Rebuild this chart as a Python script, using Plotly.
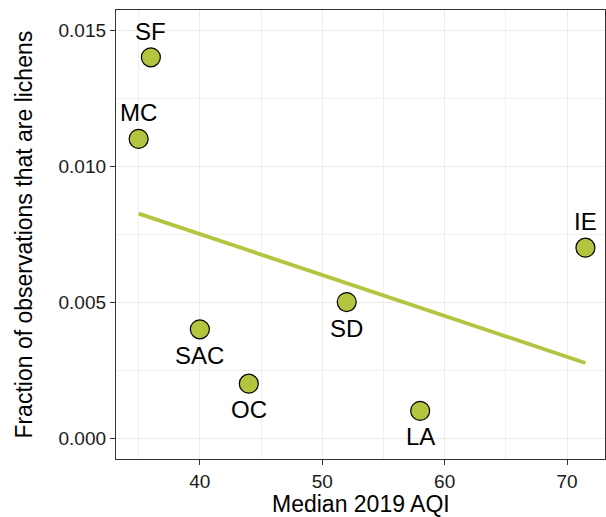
import numpy as np
import plotly.graph_objects as go

regions = ["SF", "MC", "IE", "SD", "SAC", "OC", "LA"]
aqi = [36, 35, 71.5, 52, 40, 44, 58]
lichen_frac = [0.014, 0.011, 0.007, 0.005, 0.004, 0.002, 0.001]
label_side = ["above", "above", "above", "below", "below", "below", "below"]

x_ticks = [40, 50, 60, 70]
y_ticks = [0.000, 0.005, 0.010, 0.015]
y_ticklabels = ["0.000", "0.005", "0.010", "0.015"]

green = "#b4c43e"
font = "Liberation Sans, Arial, sans-serif"

slope, intercept = np.polyfit(aqi, lichen_frac, 1)
xl = np.array([min(aqi), max(aqi)])
yl = slope * xl + intercept

fig = go.Figure()
fig.add_trace(go.Scatter(x=xl, y=yl, mode="lines",
                         line=dict(color=green, width=3.8), hoverinfo="skip"))
fig.add_trace(go.Scatter(x=aqi, y=lichen_frac, mode="markers", cliponaxis=False,
                         marker=dict(size=19, color=green,
                                     line=dict(color="black", width=1.2))))

for r, x, y, s in zip(regions, aqi, lichen_frac, label_side):
    fig.add_annotation(x=x, y=y, text=r, showarrow=False,
                       yshift=26 if s == "above" else -26,
                       font=dict(size=24, color="black", family=font))

# axis titles
fig.add_annotation(xref="paper", yref="paper", x=0.5, y=-0.100, xanchor="center",
                   yanchor="middle", text="Median 2019 AQI", showarrow=False,
                   font=dict(size=23, color="black", family=font))
fig.add_annotation(xref="paper", yref="paper", x=-0.190, y=0.5, xanchor="center",
                   yanchor="middle", textangle=-90,
                   text="Fraction of observations that are lichens", showarrow=False,
                   font=dict(size=23, color="black", family=font))

axis_common = dict(showline=True, linecolor="#333333", linewidth=1.3, mirror=True,
                   ticks="outside", ticklen=5, tickcolor="#333333", tickwidth=1.2,
                   gridcolor="#ebebeb", gridwidth=1.3, zeroline=False, automargin=False,
                   tickfont=dict(size=19, color="#1a1a1a", family=font))

fig.update_xaxes(range=[33.15, 73.1], tickvals=x_ticks,
                 minor=dict(dtick=5, tick0=35, showgrid=True, gridcolor="#f0f0f0", gridwidth=1),
                 **axis_common)
fig.update_yaxes(range=[-0.00077, 0.01574], tickvals=y_ticks, ticktext=y_ticklabels,
                 minor=dict(dtick=0.0025, tick0=0.0025, showgrid=True, gridcolor="#f0f0f0", gridwidth=1),
                 **axis_common)

fig.update_layout(width=606, height=517, showlegend=False,
                  plot_bgcolor="white", paper_bgcolor="white",
                  margin=dict(l=116, r=1, t=10, b=58, autoexpand=False))

fig.write_html("out.html", config={"displayModeBar": False},
               post_script="document.body.style.margin='0';document.body.style.overflow='hidden';")
